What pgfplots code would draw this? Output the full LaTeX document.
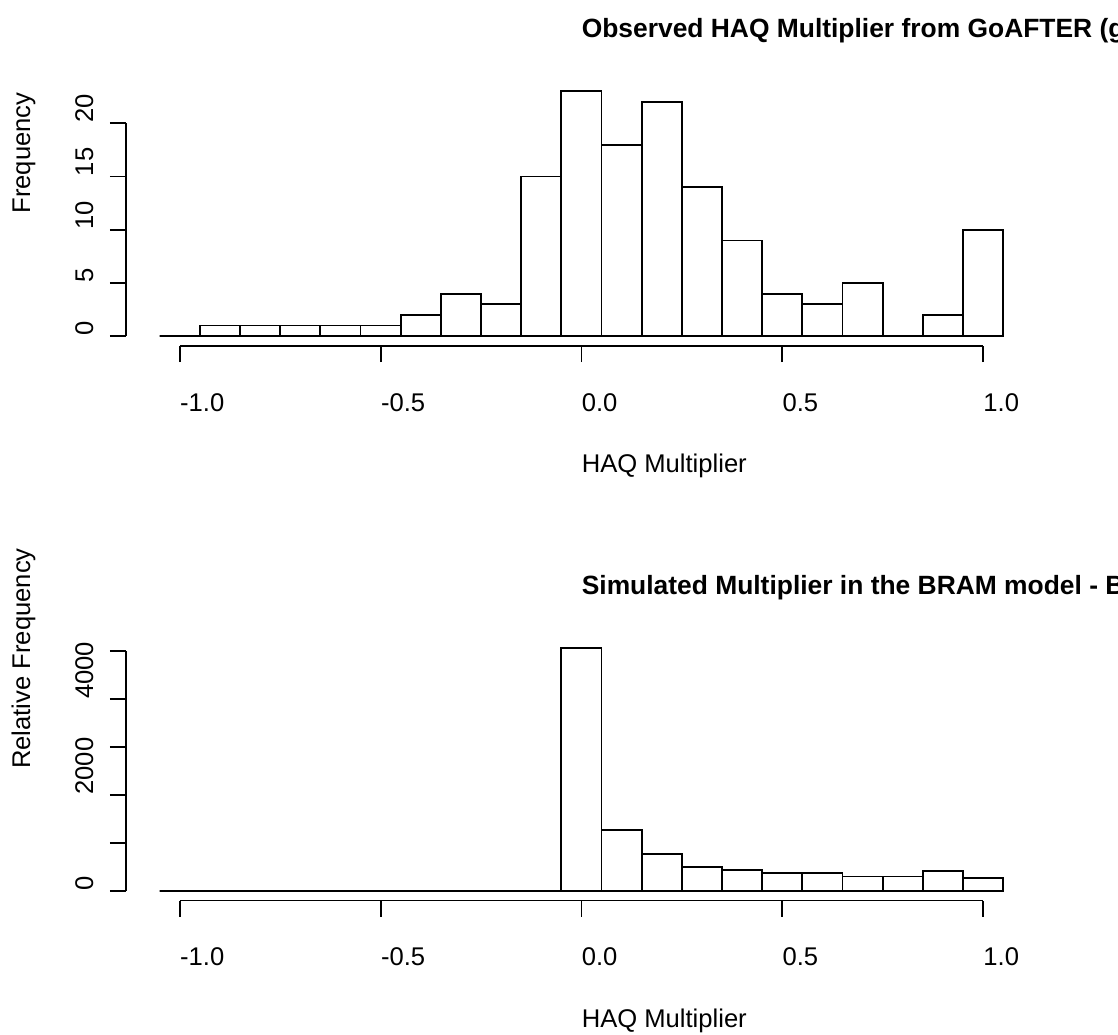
\documentclass[border=0pt]{standalone}
\usepackage{fontspec}
\setmainfont{Liberation Sans}
\usepackage{pgfplots}
\pgfplotsset{compat=1.18}

\pgfplotsset{
  rhist/.style={
    scale only axis,
    anchor=north west,
    width=455.4pt,
    xmin=-1.134, xmax=1.134,
    axis lines*=left,
    axis line style={draw=none},
    tick align=outside,
    major tick length=8pt,
    tick style={black, line width=0.9pt},
    xtick={-1,-0.5,0,0.5,1},
    xticklabels={-1.0,-0.5,0.0,0.5,1.0},
    xticklabel style={anchor=north west, inner sep=0pt},
    xticklabel shift=15.6pt,
    yticklabel style={rotate=90, anchor=south west, inner sep=0pt},
    yticklabel shift=8.1pt,
    title style={at={(axis description cs:0.5,1)}, anchor=base west,
      yshift=16pt, inner sep=0pt, font=\bfseries\fontsize{13.2}{15}\selectfont},
    xlabel style={at={(axis description cs:0.5,0)}, anchor=base west,
      yshift=-63.3pt, inner sep=0pt},
    ylabel style={at={(axis description cs:-0.1052,0.5)}, anchor=base west,
      inner sep=0pt},
    xlabel={HAQ Multiplier},
    clip=false,
  },
  rbar/.style={ybar, bar width=0.1, fill=white, draw=black, line width=0.9pt},
}

\begin{document}
\fontsize{12.8}{15}\selectfont
\begin{tikzpicture}
\useasboundingbox (0,0) rectangle (559pt,-517pt);
\clip (0,0) rectangle (559pt,-517pt);

% observed multipliers (counts)
\begin{axis}[rhist,
  at={(63pt,-40.8pt)},
  height=132.2pt,
  ymin=-0.92, ymax=23.92,
  ytick={0,5,10,15,20},
  yticklabels={0,5,10,15,20},
  ylabel={Frequency},
  title={Observed HAQ Multiplier from GoAFTER (global)},
]
\addplot[rbar] coordinates {
  (-1.0,0) (-0.9,1) (-0.8,1) (-0.7,1) (-0.6,1) (-0.5,1) (-0.4,2)
  (-0.3,4) (-0.2,3) (-0.1,15) (0.0,23) (0.1,18) (0.2,22) (0.3,14)
  (0.4,9) (0.5,4) (0.6,3) (0.7,5) (0.8,0) (0.9,2) (1.0,10)
};
\draw[line width=0.9pt] (axis cs:-1,-0.92) -- (axis cs:1,-0.92);
\draw[line width=0.9pt] (axis cs:-1.134,0) -- (axis cs:-1.134,20);
\end{axis}

% simulated multipliers
\begin{axis}[rhist,
  at={(63pt,-319pt)},
  height=131.25pt,
  ymin=-202.9, ymax=5275.9,
  ytick={0,1000,2000,3000,4000,5000},
  yticklabels={0,,2000,,4000,},
  ylabel={Relative Frequency},
  title={Simulated Multiplier in the BRAM model - Baseline},
]
\addplot[rbar] coordinates {
  (-1.0,0) (-0.9,0) (-0.8,0) (-0.7,0) (-0.6,0) (-0.5,0) (-0.4,0)
  (-0.3,0) (-0.2,0) (-0.1,0) (0.0,5073) (0.1,1267) (0.2,760) (0.3,501)
  (0.4,438) (0.5,376) (0.6,376) (0.7,300) (0.8,300) (0.9,411) (1.0,265)
};
\draw[line width=0.9pt] (axis cs:-1,-202.9) -- (axis cs:1,-202.9);
\draw[line width=0.9pt] (axis cs:-1.134,0) -- (axis cs:-1.134,5000);
\end{axis}
\end{tikzpicture}
\end{document}
